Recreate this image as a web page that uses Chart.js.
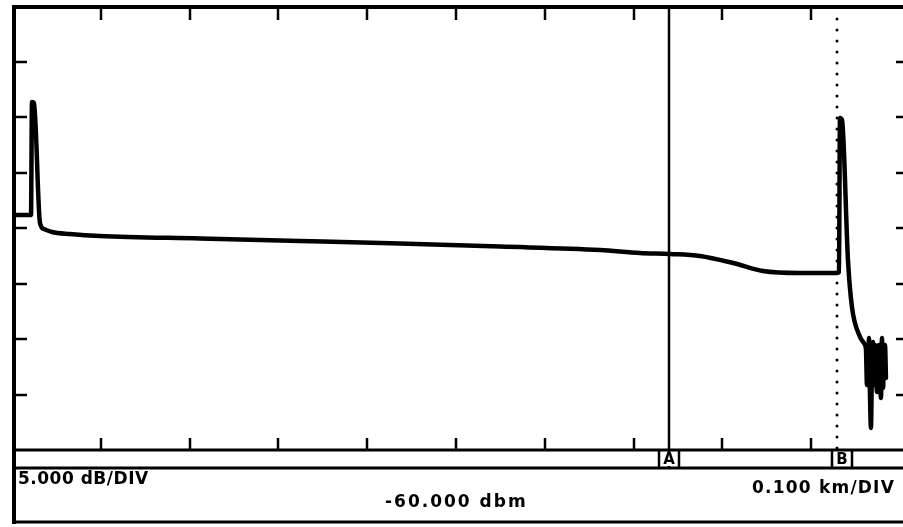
<!DOCTYPE html>
<html>
<head>
<meta charset="utf-8">
<script src="https://cdn.jsdelivr.net/npm/chart.js@4.4.1/dist/chart.umd.min.js"></script>
<style>
    html, body { margin: 0; padding: 0; background: #fff; }
    canvas { display: block; }
</style>
</head>
<body>
<canvas id="otdr" width="903" height="527"></canvas>
<script>
// Trace data: distance (km) and level (dBm)
const distanceKm = [
    0.0000, 0.0214, 0.0225, 0.0248, 0.0315, 0.0360, 0.0450, 0.0653,
    0.0991, 0.2117, 0.3243, 0.4369, 0.5495, 0.6622, 0.7072, 0.7410,
    0.7748, 0.8120, 0.8457, 0.8874, 0.9290, 0.9313, 0.9324, 0.9347,
    0.9414, 0.9459, 0.9550, 0.9606, 0.9617, 0.9628, 0.9640, 0.9651,
    0.9662, 0.9673, 0.9685, 0.9696, 0.9707, 0.9718, 0.9730, 0.9741,
    0.9752, 0.9764, 0.9775, 0.9786, 0.9797, 0.9809, 0.9820, 0.9831,
    0.9842
];
const levelDbm = [
    -38.83, -38.83, -28.65, -28.74, -39.55, -40.09, -40.36, -40.54,
    -40.72, -40.95, -41.17, -41.40, -41.67, -41.98, -42.25, -42.34,
    -42.52, -43.15, -43.87, -44.05, -44.05, -43.96, -30.09, -30.27,
    -42.88, -47.12, -49.82, -50.54, -50.99, -54.14, -53.69, -49.91,
    -55.05, -58.02, -51.89, -50.27, -54.14, -50.54, -52.97, -54.77,
    -50.99, -50.54, -53.69, -55.32, -49.91, -54.41, -51.17, -50.54,
    -53.51
];

// Screen scale
const refLevel = -60;      // dBm at bottom of screen
const dbPerDiv = 5;
const kmPerDiv = 0.1;
const xDivs = 10;
const yDivs = 8;

// Cursors
const cursorLabels = ['A', 'B'];
const cursorKm = [0.740, 0.929];

// Readout texts
const scaleText = '5.000 dB/DIV';
const refText = '-60.000 dbm';
const distText = '0.100 km/DIV';

// Draw the instrument frame, graticule ticks, cursors and readout
const screenPlugin = {
    id: 'screen',
    beforeDraw(chart) {
        const ctx = chart.ctx;
        ctx.save();
        ctx.fillStyle = '#fff';
        ctx.fillRect(0, 0, chart.width, chart.height);
        ctx.restore();
    },
    afterDatasetsDraw(chart) {
        const ctx = chart.ctx;
        const area = chart.chartArea;
        const xs = chart.scales.x;
        const ys = chart.scales.y;
        const stripBottom = area.bottom + 18;
        const boxBottom = chart.height - 5;

        ctx.save();
        ctx.strokeStyle = '#000';
        ctx.fillStyle = '#000';
        ctx.lineCap = 'butt';

        // Frame lines
        ctx.lineWidth = 4;
        ctx.beginPath();
        ctx.moveTo(area.left + 2, area.top - 1);
        ctx.lineTo(area.left + 2, boxBottom + 2);
        ctx.moveTo(area.left, area.top + 1);
        ctx.lineTo(chart.width, area.top + 1);
        ctx.stroke();

        ctx.lineWidth = 3;
        ctx.beginPath();
        ctx.moveTo(area.left, area.bottom);
        ctx.lineTo(chart.width, area.bottom);
        ctx.moveTo(area.left, stripBottom);
        ctx.lineTo(chart.width, stripBottom);
        ctx.moveTo(area.left, boxBottom);
        ctx.lineTo(chart.width, boxBottom);
        ctx.stroke();

        // Division ticks
        ctx.lineWidth = 2.5;
        ctx.beginPath();
        for (let i = 1; i < xDivs; i++) {
            const x = Math.round(xs.getPixelForValue(i * kmPerDiv));
            ctx.moveTo(x, area.top + 2);
            ctx.lineTo(x, area.top + 14);
            ctx.moveTo(x, area.bottom);
            ctx.lineTo(x, area.bottom - 12);
        }
        for (let j = 1; j < yDivs; j++) {
            const y = Math.round(ys.getPixelForValue(refLevel + j * dbPerDiv));
            ctx.moveTo(area.left + 2, y);
            ctx.lineTo(area.left + 15, y);
            ctx.moveTo(area.right - 4, y);
            ctx.lineTo(chart.width, y);
        }
        ctx.stroke();

        // Cursors
        cursorLabels.forEach((label, k) => {
            const x = Math.round(xs.getPixelForValue(cursorKm[k]));
            if (k === 0) {
                ctx.lineWidth = 2.5;
                ctx.beginPath();
                ctx.moveTo(x, area.top);
                ctx.lineTo(x, stripBottom);
                ctx.stroke();
            } else {
                for (let y = area.top + 13; y < area.bottom; y += 11) {
                    ctx.beginPath();
                    ctx.arc(x, y, 1.5, 0, Math.PI * 2);
                    ctx.fill();
                }
            }
            const cx = k === 0 ? x : x + 5;
            ctx.lineWidth = 2.5;
            ctx.beginPath();
            ctx.moveTo(cx - 10, area.bottom);
            ctx.lineTo(cx - 10, stripBottom);
            ctx.moveTo(cx + 10, area.bottom);
            ctx.lineTo(cx + 10, stripBottom);
            ctx.stroke();
            ctx.font = 'bold 15px "DejaVu Sans"';
            ctx.textAlign = 'center';
            ctx.textBaseline = 'middle';
            ctx.fillStyle = '#fff';
            ctx.fillRect(cx - 8, area.bottom + 2, 16, 14);
            ctx.fillStyle = '#000';
            ctx.fillText(label, cx, area.bottom + 10);
        });

        // Readout
        ctx.font = 'bold 17px "DejaVu Sans"';
        ctx.letterSpacing = '0.5px';
        ctx.textBaseline = 'alphabetic';
        ctx.textAlign = 'left';
        ctx.fillText(scaleText, area.left + 6, 484);
        ctx.letterSpacing = '2px';
        ctx.fillText(refText, 385, 507);
        ctx.letterSpacing = '1.2px';
        ctx.textAlign = 'right';
        ctx.fillText(distText, area.right - 5, 493);
        ctx.restore();
    }
};

new Chart(document.getElementById('otdr'), {
    type: 'line',
    data: {
        datasets: [{
            data: distanceKm.map((d, i) => ({ x: d, y: levelDbm[i] })),
            borderColor: '#000',
            borderWidth: 4.5,
            pointRadius: 0,
            fill: false,
            cubicInterpolationMode: 'monotone',
            borderJoinStyle: 'round',
            borderCapStyle: 'round'
        }]
    },
    options: {
        responsive: false,
        animation: false,
        devicePixelRatio: 1,
        layout: { padding: { left: 12, top: 6, right: 3, bottom: 77 } },
        scales: {
            x: { type: 'linear', min: 0, max: xDivs * kmPerDiv, display: false },
            y: { min: refLevel, max: refLevel + yDivs * dbPerDiv, display: false }
        },
        plugins: {
            legend: { display: false },
            tooltip: { enabled: false }
        }
    },
    plugins: [screenPlugin]
});
</script>
</body>
</html>
